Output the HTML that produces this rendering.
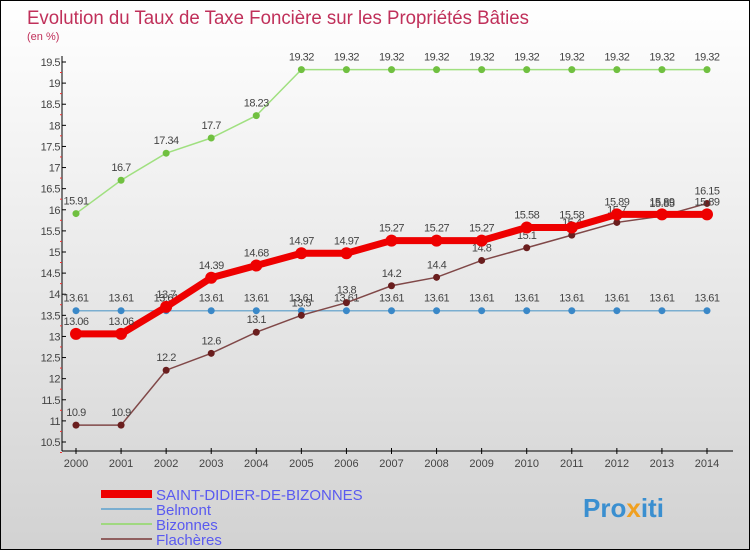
<!DOCTYPE html>
<html><head><meta charset="utf-8"><style>
body{margin:0}
#c{width:748px;height:548px;border:1px solid #000;background:linear-gradient(#fff 0%,#f2f2f2 30%,#d2d2d2 100%);position:relative;font-family:"Liberation Sans",sans-serif}
svg text{font-family:"Liberation Sans",sans-serif}
</style></head><body>
<div id="c">
<svg id="s" width="748" height="548" xmlns="http://www.w3.org/2000/svg">
<text x="26" y="23" font-size="19" fill="#c0305a" textLength="502" lengthAdjust="spacingAndGlyphs">Evolution du Taux de Taxe Foncière sur les Propriétés Bâties</text>
<text x="26" y="39" font-size="11" fill="#c0305a">(en %)</text>
<g id="axes"></g><g id="series"></g>
<g>
<line x1="100" y1="493" x2="151" y2="493" stroke="#e00" stroke-width="8"/>
<text x="155" y="499" font-size="15" fill="#5a5af0">SAINT-DIDIER-DE-BIZONNES</text>
<line x1="100" y1="508" x2="151" y2="508" stroke="#7aaed0" stroke-width="2"/>
<text x="155" y="514" font-size="15" fill="#5a5af0">Belmont</text>
<line x1="100" y1="523" x2="151" y2="523" stroke="#a0d880" stroke-width="2"/>
<text x="155" y="529" font-size="15" fill="#5a5af0">Bizonnes</text>
<line x1="100" y1="538" x2="151" y2="538" stroke="#906060" stroke-width="2"/>
<text x="155" y="544" font-size="15" fill="#5a5af0">Flachères</text>
</g>
<text x="582" y="516" font-size="26" font-weight="bold" fill="#3a8fd0">Pro<tspan fill="#f0a020">x</tspan>iti</text>
</svg></div>
<script>
const years=[2000,2001,2002,2003,2004,2005,2006,2007,2008,2009,2010,2011,2012,2013,2014];
const yTicks=[10.5,11,11.5,12,12.5,13,13.5,14,14.5,15,15.5,16,16.5,17,17.5,18,18.5,19,19.5];
const sdb=[13.06,13.06,13.7,14.39,14.68,14.97,14.97,15.27,15.27,15.27,15.58,15.58,15.89,15.89,15.89];
const belmont=[13.61,13.61,13.61,13.61,13.61,13.61,13.61,13.61,13.61,13.61,13.61,13.61,13.61,13.61,13.61];
const bizonnes=[15.91,16.7,17.34,17.7,18.23,19.32,19.32,19.32,19.32,19.32,19.32,19.32,19.32,19.32,19.32];
const flacheres=[10.9,10.9,12.2,12.6,13.1,13.5,13.8,14.2,14.4,14.8,15.1,15.4,15.7,15.85,16.15];
const NS="http://www.w3.org/2000/svg";
const X=i=>75+i*(706-75)/14;
const Y=v=>441-(v-10.5)*(380/9);
function mk(t,a,p){const e=document.createElementNS(NS,t);for(const k in a)e.setAttribute(k,a[k]);p.appendChild(e);return e;}
const ax=document.getElementById('axes'),sg=document.getElementById('series');
let yl=mk('line',{x1:61,y1:55,x2:61,y2:450,stroke:'#000'},ax);

let xl=mk('line',{x1:61,y1:450,x2:732,y2:450,stroke:'#000'},ax);

yTicks.forEach(v=>{const y=Y(v);mk('line',{x1:61,y1:y,x2:65,y2:y,stroke:'#000'},ax);
mk('line',{x1:59,y1:y+10.5,x2:61,y2:y+10.5,stroke:'#e33'},ax);
const t=mk('text',{x:59,y:y+4,'font-size':11,'text-anchor':'end',fill:'#444','letter-spacing':'-0.5'},ax);t.textContent=v;
});
years.forEach((yr,i)=>{const x=X(i);mk('line',{x1:x,y1:447,x2:x,y2:453,stroke:'#000'},ax);
const t=mk('text',{x:x,y:466,'font-size':11,'text-anchor':'middle',fill:'#444'},ax);t.textContent=yr;
});
function series(name,vals,col,w,r,dot){const g=mk('g',{},sg);

mk('polyline',{points:vals.map((v,i)=>X(i)+','+Y(v)).join(' '),fill:'none',stroke:col,'stroke-width':w},g);
vals.forEach((v,i)=>{const c=mk('circle',{cx:X(i),cy:Y(v),r:r,fill:dot},g);

const t=mk('text',{x:X(i),y:Y(v)-9,'font-size':11,'text-anchor':'middle',fill:'#444','letter-spacing':'-0.5'},g);t.textContent=v;
});}
series('belmont',belmont,'#7aaed0',1.5,3.5,'#3a88c8');
series('bizonnes',bizonnes,'#a0e080',1.5,3.5,'#70c040');
series('flacheres',flacheres,'#804848',1.5,3.5,'#6a1e1e');
series('saint-didier',sdb,'#ee0000',7,6,'#ee0000');
</script></body></html>
